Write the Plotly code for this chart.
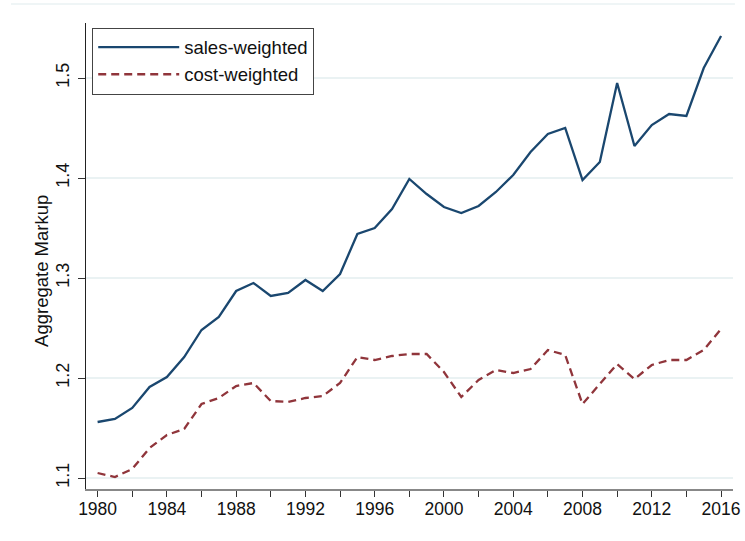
import plotly.graph_objects as go

years = list(range(1980, 2017))
sales_weighted = [1.156, 1.159, 1.170, 1.191, 1.201, 1.221, 1.248, 1.261, 1.287, 1.295,
                  1.282, 1.285, 1.298, 1.287, 1.304, 1.344, 1.350, 1.369, 1.399, 1.384,
                  1.371, 1.365, 1.372, 1.386, 1.403, 1.426, 1.444, 1.450, 1.398, 1.416,
                  1.495, 1.432, 1.453, 1.464, 1.462, 1.510, 1.542]
cost_weighted = [1.105, 1.101, 1.109, 1.130, 1.143, 1.149, 1.174, 1.180, 1.192, 1.195,
                 1.177, 1.176, 1.180, 1.182, 1.195, 1.221, 1.218, 1.222, 1.224, 1.224,
                 1.206, 1.181, 1.198, 1.208, 1.205, 1.209, 1.228, 1.223, 1.174, 1.194,
                 1.214, 1.199, 1.213, 1.218, 1.218, 1.228, 1.249]
x_ticks = [1980, 1984, 1988, 1992, 1996, 2000, 2004, 2008, 2012, 2016]
y_ticks = [1.1, 1.2, 1.3, 1.4, 1.5]
y_title = "Aggregate Markup"

NAVY = "#1a476f"
MAROON = "#90353b"
GRID = "#eaf2f3"
FONT = "Liberation Sans, Arial, sans-serif"

fig = go.Figure()
fig.add_trace(go.Scatter(x=years, y=sales_weighted, mode="lines", name="sales-weighted",
                         line=dict(color=NAVY, width=2.3)))
fig.add_trace(go.Scatter(x=years, y=cost_weighted, mode="lines", name="cost-weighted",
                         line=dict(color=MAROON, width=2.3, dash="8px,5px")))

fig.update_layout(
    width=745, height=541,
    margin=dict(l=86, r=12, t=23, b=52, autoexpand=False),
    paper_bgcolor="white", plot_bgcolor="white",
    font=dict(family=FONT, size=17, color="#111"),
    showlegend=True,
    legend=dict(x=0.0096, y=0.99, xanchor="left", yanchor="top",
                bgcolor="white", bordercolor="#444", borderwidth=1,
                font=dict(size=18.5, family=FONT, color="#111"),
                itemwidth=81, tracegroupgap=0),
    xaxis=dict(range=[1979.33, 2016.69], tickvals=x_ticks, ticktext=[str(v) for v in x_ticks],
               automargin=False,
               showgrid=False, zeroline=False, showline=True, linecolor="#888", linewidth=1.5,
               ticks="outside", ticklen=6, tickcolor="#333", tickwidth=1,
               ticklabelstandoff=-3,
               minor=dict(dtick=2, tick0=1980, ticks="outside", ticklen=6, tickcolor="#333", tickwidth=1, showgrid=False),
               tickfont=dict(size=17.5, family=FONT)),
    yaxis=dict(range=[1.089, 1.555], tickvals=y_ticks, ticktext=[f"{v:.1f}" for v in y_ticks],
               automargin=False,
               showgrid=True, gridcolor=GRID, gridwidth=1.5, zeroline=False,
               showline=True, linecolor="#222", linewidth=1,
               ticks="outside", ticklen=7, tickcolor="#333", tickwidth=1,
               ticklabelstandoff=2,
               tickangle=-90, tickfont=dict(size=18, family=FONT)),
)

fig.add_annotation(text=y_title, xref="paper", yref="paper", x=-0.068, y=0.468,
                   xanchor="center", yanchor="middle", textangle=-90, showarrow=False,
                   font=dict(size=18.5, family=FONT, color="#111"))

fig.add_shape(type="line", xref="paper", yref="paper", x0=-0.116, x1=1.003, y0=1.0408, y1=1.0408,
              line=dict(color=GRID, width=1.5))

fig.write_html("out.html", config={"displayModeBar": False},
               post_script="document.body.style.margin='0px';")
